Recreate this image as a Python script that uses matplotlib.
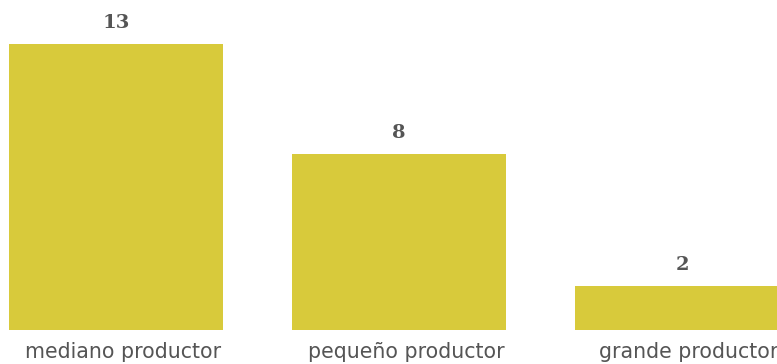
import matplotlib
matplotlib.use("Agg")
import matplotlib.pyplot as plt
import matplotlib.transforms as mtransforms

# data
categories = ["mediano productor", "pequeño productor", "grande productor"]
values = [13, 8, 2]

bar_color = "#d8ca3b"
text_color = "#555555"

fig = plt.figure(figsize=(7.77, 3.64), dpi=100)
ax = fig.add_axes([0, 34 / 364, 1, 330 / 364])

x = list(range(len(categories)))
bars = ax.bar(x, values, width=0.756, color=bar_color)

ax.set_xlim(-116 / 283, 661 / 283)
ax.set_ylim(0, 15)

for b, v in zip(bars, values):
    ax.annotate(str(v), (b.get_x() + b.get_width() / 2, v),
                xytext=(0, 9), textcoords="offset points",
                ha="center", va="bottom", fontsize=14, fontweight="bold",
                family="DejaVu Serif", color=text_color)

# tick labels, nudged right like the original (last one runs off the edge there too)
ax.set_xticks(x)
ax.set_xticklabels(categories, fontsize=14.8, color=text_color, family="DejaVu Sans")
ax.tick_params(axis="x", length=0, pad=9)
shift = mtransforms.ScaledTranslation(7 / 100, 0, fig.dpi_scale_trans)
for lbl in ax.get_xticklabels():
    lbl.set_transform(lbl.get_transform() + shift)
ax.set_yticks([])
for s in ax.spines.values():
    s.set_visible(False)

fig.savefig("out.png", dpi=100)
